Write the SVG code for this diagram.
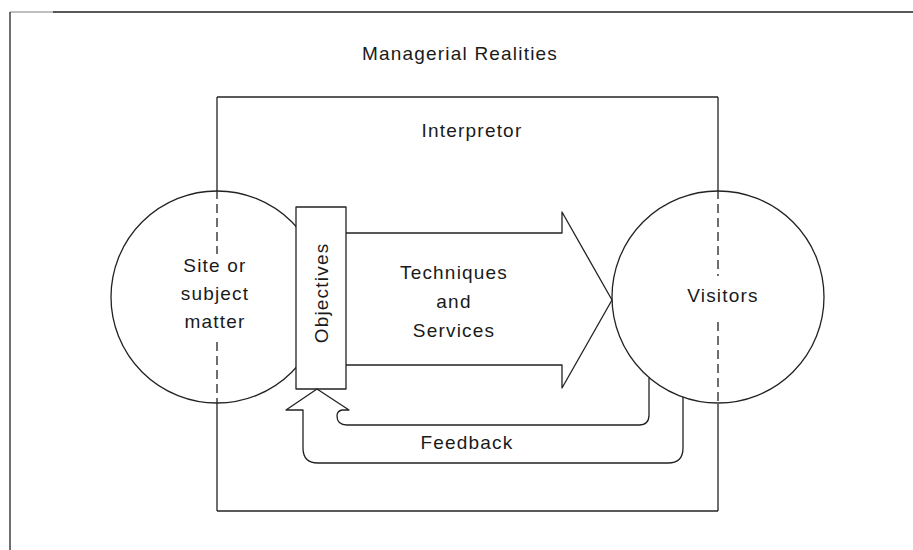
<svg xmlns="http://www.w3.org/2000/svg" width="913" height="550" viewBox="0 0 913 550">
  <style>
    .ln { fill: none; stroke: #222; stroke-width: 1.3; stroke-linejoin: round; }
    .dash { fill: none; stroke: #222; stroke-width: 1.3; stroke-dasharray: 9 5; }
    .lbl { font-family: "Liberation Sans", Arial, sans-serif; font-size: 19px; letter-spacing: 1.2px; fill: #1a1a1a; text-anchor: middle; }
  </style>
  <rect width="913" height="550" fill="#fff"/>

  <!-- outer frame: managerial realities -->
  <g id="managerial-realities">
    <line class="ln" x1="10" y1="12" x2="53" y2="12" style="stroke:#aaa"/>
    <line class="ln" x1="53" y1="12" x2="913" y2="12"/>
    <line class="ln" x1="10" y1="12" x2="10" y2="550"/>
    <text class="lbl" x="460" y="60">Managerial Realities</text>
  </g>

  <!-- interpreter box, edges dashed where they cross the circles -->
  <g id="interpretor">
    <line class="ln" x1="217" y1="97" x2="718" y2="97"/>
    <line class="ln" x1="217" y1="511" x2="718" y2="511"/>
    <line class="ln" x1="217" y1="97" x2="217" y2="190"/>
    <line class="ln" x1="217" y1="404" x2="217" y2="511"/>
    <line class="ln" x1="718" y1="97" x2="718" y2="190"/>
    <line class="ln" x1="718" y1="404" x2="718" y2="511"/>
    <text class="lbl" x="472" y="137">Interpretor</text>
  </g>

  <g id="site">
    <circle class="ln" cx="217" cy="297" r="106"/>
    <line class="dash" x1="217" y1="190" x2="217" y2="254"/>
    <line class="dash" x1="217" y1="342" x2="217" y2="404"/>
    <text class="lbl" x="215" y="272">Site or</text>
    <text class="lbl" x="215" y="300">subject</text>
    <text class="lbl" x="215" y="328">matter</text>
  </g>

  <g id="visitors">
    <circle class="ln" cx="718" cy="297" r="106"/>
    <line class="dash" x1="718" y1="190" x2="718" y2="276"/>
    <line class="dash" x1="718" y1="322" x2="718" y2="404"/>
    <text class="lbl" x="723" y="302">Visitors</text>
  </g>

  <g id="objectives">
    <rect class="ln" x="296" y="207" width="50" height="182" fill="#fff" style="fill:#fff"/>
    <text class="lbl" transform="translate(328,293) rotate(-90)">Objectives</text>
  </g>

  <g id="connectors">
    <!-- techniques and services: broad arrow to visitors -->
    <g id="techniques">
      <path class="ln" d="M346 233 L562 233 L562 212 L612 300 L562 388 L562 365 L346 365"/>
      <text class="lbl" x="454" y="279">Techniques</text>
      <text class="lbl" x="454" y="308">and</text>
      <text class="lbl" x="454" y="337">Services</text>
    </g>
    <!-- feedback loop back to objectives -->
    <g id="feedback">
      <path class="ln" d="M683 397 L683 448 Q683 463 668 463 L318 463 Q303 463 303 448 L303 410 L286 410 L317 389 L349 410 L342 410 Q337 411 337 416 Q337 425 347 425 L639 425 Q649 425 649 415 L649 378"/>
      <text class="lbl" x="467" y="449">Feedback</text>
    </g>
  </g>
</svg>
